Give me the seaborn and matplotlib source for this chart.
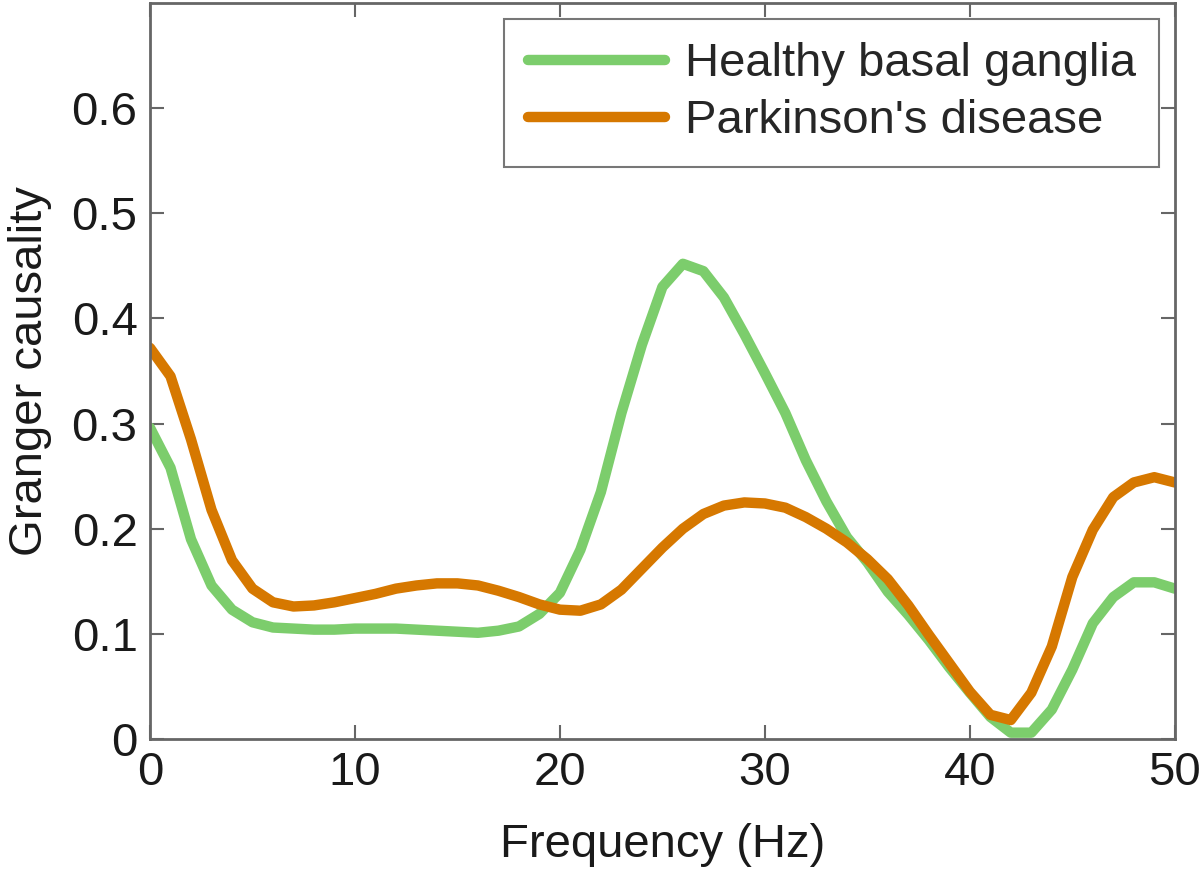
import numpy as np
import pandas as pd
import matplotlib
matplotlib.use("Agg")
import matplotlib.pyplot as plt
import seaborn as sns

freq = list(range(0, 51))
healthy = [0.296, 0.258, 0.190, 0.146, 0.123, 0.111, 0.106, 0.105, 0.104, 0.104,
           0.105, 0.105, 0.105, 0.104, 0.103, 0.102, 0.101, 0.103, 0.107, 0.119,
           0.139, 0.180, 0.235, 0.310, 0.375, 0.430, 0.452, 0.445, 0.420, 0.385,
           0.348, 0.310, 0.265, 0.226, 0.192, 0.168, 0.140, 0.118, 0.094, 0.068,
           0.044, 0.021, 0.006, 0.006, 0.028, 0.066, 0.110, 0.135, 0.149, 0.149,
           0.143]
parkinson = [0.372, 0.345, 0.285, 0.218, 0.170, 0.143, 0.130, 0.126, 0.127, 0.130,
             0.134, 0.138, 0.143, 0.146, 0.148, 0.148, 0.146, 0.141, 0.135, 0.128,
             0.123, 0.122, 0.128, 0.142, 0.162, 0.182, 0.200, 0.214, 0.222, 0.225,
             0.224, 0.220, 0.211, 0.200, 0.187, 0.171, 0.152, 0.127, 0.099, 0.072,
             0.045, 0.023, 0.018, 0.044, 0.088, 0.154, 0.199, 0.230, 0.244, 0.249,
             0.244]
labels = ["Healthy basal ganglia", "Parkinson's disease"]
colors = ["#7ccd6c", "#d67800"]

df = pd.concat([
    pd.DataFrame({"Frequency": freq, "GC": healthy, "Condition": labels[0]}),
    pd.DataFrame({"Frequency": freq, "GC": parkinson, "Condition": labels[1]}),
])

sns.set_theme(style="white")
plt.rcParams['font.family'] = ['Liberation Sans', 'DejaVu Sans']

FS = 34
fig = plt.figure(figsize=(12, 8.74), dpi=100)
ax = fig.add_axes([0.125, 0.1545, 0.854, 0.842])

sns.lineplot(data=df, x="Frequency", y="GC", hue="Condition",
             palette=dict(zip(labels, colors)), linewidth=7.5, ax=ax)

ax.set_xlim(0, 50)
ax.set_ylim(0, 0.7)
ax.set_xticks([0, 10, 20, 30, 40, 50])
ax.set_yticks([0, 0.1, 0.2, 0.3, 0.4, 0.5, 0.6])
ax.set_yticklabels(["0", "0.1", "0.2", "0.3", "0.4", "0.5", "0.6"])
ax.set_xlabel("Frequency (Hz)", fontsize=FS, color="#1a1a1a", labelpad=20)
ax.set_ylabel("Granger causality", fontsize=FS, color="#1a1a1a", labelpad=14)

for s in ax.spines.values():
    s.set_color("#666666")
    s.set_linewidth(2)
ax.tick_params(direction="in", length=10, width=1.5, color="#666666",
               labelsize=FS, labelcolor="#1a1a1a", top=True, right=True,
               bottom=True, left=True, pad=9)

leg = ax.legend(loc="upper right", bbox_to_anchor=(0.985, 0.979), borderaxespad=0,
                fontsize=FS, frameon=True, fancybox=False, handlelength=2.9,
                handletextpad=0.42, borderpad=0.5, labelspacing=0.28)
leg.get_frame().set_edgecolor("#555555")
leg.get_frame().set_linewidth(1.5)
for l in leg.get_lines():
    l.set_linewidth(7.5)

fig.savefig("out.png", dpi=100)
